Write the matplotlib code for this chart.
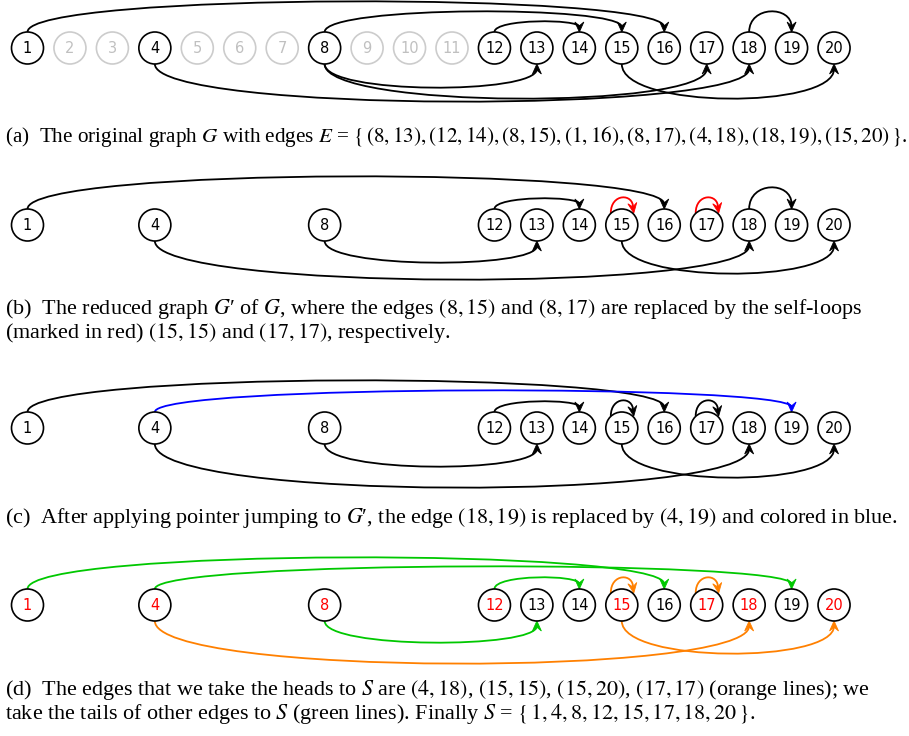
import numpy as np
import matplotlib.pyplot as plt
from matplotlib.path import Path
from matplotlib.patches import PathPatch, Circle, Polygon

plt.rcParams['mathtext.fontset'] = 'stix'

# nodes
node_ids = list(range(1, 21))
kept_nodes = [1, 4, 8, 12, 13, 14, 15, 16, 17, 18, 19, 20]
s_nodes = [1, 4, 8, 12, 15, 17, 18, 20]

# edges (tail, head) for each panel
edges_a = [(8, 13), (12, 14), (8, 15), (1, 16), (8, 17), (4, 18), (18, 19), (15, 20)]
edges_b = [(8, 13), (12, 14), (15, 15), (1, 16), (17, 17), (4, 18), (18, 19), (15, 20)]
edges_c = [(8, 13), (12, 14), (15, 15), (1, 16), (17, 17), (4, 18), (4, 19), (15, 20)]
edges_d = [(8, 13), (12, 14), (15, 15), (1, 16), (17, 17), (4, 18), (4, 19), (15, 20)]

green = '#00c800'
orange = '#ff8000'
colors_a = ['k'] * 8
colors_b = ['k', 'k', 'red', 'k', 'red', 'k', 'k', 'k']
colors_c = ['k', 'k', 'k', 'k', 'k', 'k', 'blue', 'k']
colors_d = [green, green, orange, green, orange, orange, green, orange]

# which side of the row each edge is drawn on, and how far it bulges (px)
sides = ['down', 'up', 'up', 'up', 'down', 'down', 'up', 'down']
bulge_a = [23, 10, 20, 30, 34, 37, 20, 34]
bulge_b = [21, 10, 15, 32, 15, 38, 21, 32]
bulge_c = [22, 10, 15, 31, 15, 43, 21, 33]
bulge_d = [21, 11, 15, 31, 15, 42, 22, 32]

captions = [
    [r"(a)  The original graph $G$ with edges $E$ = $\{\,(8,13),(12,14),(8,15),(1,16),(8,17),(4,18),(18,19),(15,20)\,\}$."],
    ["(b)  The reduced graph $G$\u2032 of $G$, where the edges $(8,15)$ and $(8,17)$ are replaced by the self-loops",
     "(marked in red) $(15,15)$ and $(17,17)$, respectively."],
    ["(c)  After applying pointer jumping to $G$\u2032, the edge $(18,19)$ is replaced by $(4,19)$ and colored in blue."],
    ["(d)  The edges that we take the heads to $S$ are $(4,18)$, $(15,15)$, $(15,20)$, $(17,17)$ (orange lines); we",
     r"take the tails of other edges to $S$ (green lines). Finally $S$ = $\{\,1,4,8,12,15,17,18,20\,\}$."],
]
cap_size = [15.2, 15.9, 15.9, 15.9]

W, H = 909, 736
x0, dx = 27.5, 42.45
row_y = [48, 225, 428, 605]
cap_y = [142, 314, 523, 695]
line_gap = 24
r = 16


def node_x(n):
    return x0 + (n - 1) * dx


def arrow_head(ax, tip, d, color, L=10, w=9):
    d = np.array(d, float) / np.linalg.norm(d)
    nrm = np.array([-d[1], d[0]])
    tip = np.array(tip, float)
    pts = [tip, tip - d * L + nrm * w / 2, tip - d * L * 0.62, tip - d * L - nrm * w / 2]
    ax.add_patch(Polygon(pts, closed=True, fc=color, ec=color, lw=0.6, zorder=4))


def draw_edge(ax, u, v, y, side, off, color):
    h = off / 0.75
    if u == v:
        cx = node_x(u)
        p0 = (cx - 11, y - 12)
        tip = (cx + 12, y - 12)
        p1 = (p0[0], p0[1] - h)
        p2 = (tip[0], tip[1] - h)
        d = (0.15, 1)
    else:
        s = -1 if side == 'up' else 1
        p0 = (node_x(u), y + s * r)
        tip = (node_x(v), y + s * r)
        p1 = (p0[0], p0[1] + s * h)
        p2 = (tip[0], tip[1] + s * h)
        d = (0, -s)
    dd = np.array(d, float) / np.linalg.norm(d)
    p3 = np.array(tip) - dd * 5
    path = Path([p0, p1, p2, p3], [Path.MOVETO, Path.CURVE4, Path.CURVE4, Path.CURVE4])
    ax.add_patch(PathPatch(path, fc='none', ec=color, lw=1.3, zorder=3))
    arrow_head(ax, tip, d, color)


fig = plt.figure(figsize=(W / 100, H / 100), dpi=100)
ax = fig.add_axes([0, 0, 1, 1])
ax.set_xlim(0, W)
ax.set_ylim(H, 0)
ax.axis('off')

panels = [
    (edges_a, colors_a, bulge_a),
    (edges_b, colors_b, bulge_b),
    (edges_c, colors_c, bulge_c),
    (edges_d, colors_d, bulge_d),
]

for k, (edges, cols, bulges) in enumerate(panels):
    y = row_y[k]
    shown = node_ids if k == 0 else kept_nodes
    for n in shown:
        faded = n not in kept_nodes
        ec = '#cccccc' if faded else 'k'
        tc = '#c0c0c0' if faded else 'k'
        if k == 3 and n in s_nodes:
            tc = 'red'
        ax.add_patch(Circle((node_x(n), y), r, fc='white', ec=ec, lw=1.2, zorder=5))
        ax.text(node_x(n), y + 0.5, str(n), ha='center', va='center', fontsize=10.5,
                color=tc, family='DejaVu Sans', zorder=6)
    for (u, v), c, sd, off in zip(edges, cols, sides, bulges):
        draw_edge(ax, u, v, y, sd, off, c)

    for j, line in enumerate(captions[k]):
        ax.text(5, cap_y[k] + j * line_gap, line, ha='left', va='baseline', fontsize=cap_size[k],
                family='Liberation Serif')

fig.savefig('out.png', dpi=100)
